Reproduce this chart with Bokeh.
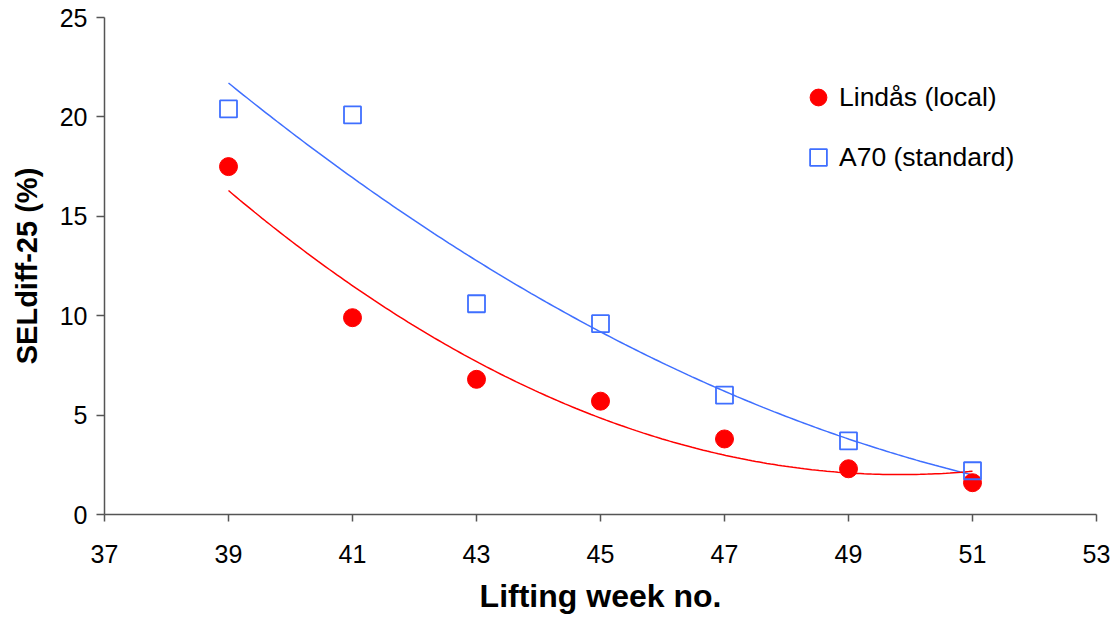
import numpy as np
from bokeh.plotting import figure
from bokeh.models import Range1d, FixedTicker, Legend, LegendItem, ColumnDataSource
from bokeh.embed import file_html
from bokeh.resources import INLINE

# ---- data ----
weeks = [39, 41, 43, 45, 47, 49, 51]
lindas = [17.5, 9.9, 6.8, 5.7, 3.8, 2.3, 1.6]
a70 = [20.4, 20.1, 10.6, 9.6, 6.0, 3.7, 2.2]
x_ticks = [37, 39, 41, 43, 45, 47, 49, 51, 53]
y_ticks = [0, 5, 10, 15, 20, 25]
series_names = ["Lindås (local)", "A70 (standard)"]
x_title = "Lifting week no."
y_title = "SELdiff-25 (%)"

RED = "#ff0000"
BLUE = "#3f6fff"
FONT = "Liberation Sans"

p = figure(width=1112, height=620, output_backend="svg", toolbar_location=None,
           x_range=Range1d(37, 53), y_range=Range1d(0, 25),
           min_border_left=104, min_border_right=16, min_border_top=17, min_border_bottom=106)
p.outline_line_color = None
p.xgrid.visible = False
p.ygrid.visible = False
p.background_fill_color = "white"
p.border_fill_color = "white"

# polynomial (order 2) trend lines, like the spreadsheet trendline
xs = np.linspace(min(weeks), max(weeks), 200)
fit_r = np.polyval(np.polyfit(weeks, lindas, 2), xs)
fit_b = np.polyval(np.polyfit(weeks, a70, 2), xs)
p.line(xs, fit_b, line_color=BLUE, line_width=1.5)
p.line(xs, fit_r, line_color=RED, line_width=1.5)

src = ColumnDataSource(dict(x=weeks, r=lindas, b=a70))
r_red = p.scatter("x", "r", source=src, marker="circle", size=18,
                  fill_color=RED, line_color=RED)
r_blue = p.scatter("x", "b", source=src, marker="square", size=17,
                   fill_color=None, line_color=BLUE, line_width=1.8)

for ax in (p.xaxis[0], p.yaxis[0]):
    ax.axis_line_color = "#555555"
    ax.axis_line_width = 1.5
    ax.major_tick_line_color = "#555555"
    ax.major_tick_line_width = 1.5
    ax.major_tick_in = 0
    ax.minor_tick_line_color = None
    ax.major_label_text_font = FONT
    ax.major_label_text_font_size = "25px"
    ax.major_label_text_color = "black"
    ax.axis_label_text_font = FONT
    ax.axis_label_text_font_style = "bold"
    ax.axis_label_text_color = "black"

p.xaxis.axis_label_text_font_size = "32px"
p.yaxis.axis_label_text_font_size = "29px"
p.xaxis.ticker = FixedTicker(ticks=x_ticks)
p.yaxis.ticker = FixedTicker(ticks=y_ticks)
p.xaxis.major_tick_out = 7
p.yaxis.major_tick_out = 8
p.xaxis.major_label_standoff = 23
p.yaxis.major_label_standoff = 9
p.xaxis.axis_label = x_title
p.yaxis.axis_label = y_title
p.xaxis.axis_label_standoff = 12
p.yaxis.axis_label_standoff = 14

legend = Legend(items=[LegendItem(label=series_names[0], renderers=[r_red]),
                       LegendItem(label=series_names[1], renderers=[r_blue])],
                location=(693, 336), orientation="vertical",
                glyph_width=42, glyph_height=42, label_height=42,
                spacing=18, label_standoff=-6, padding=0, margin=0,
                border_line_color=None, background_fill_alpha=0,
                label_text_font=FONT, label_text_font_size="26.5px",
                label_text_color="black")
p.add_layout(legend)

open("out.html", "w").write(file_html(p, INLINE))
